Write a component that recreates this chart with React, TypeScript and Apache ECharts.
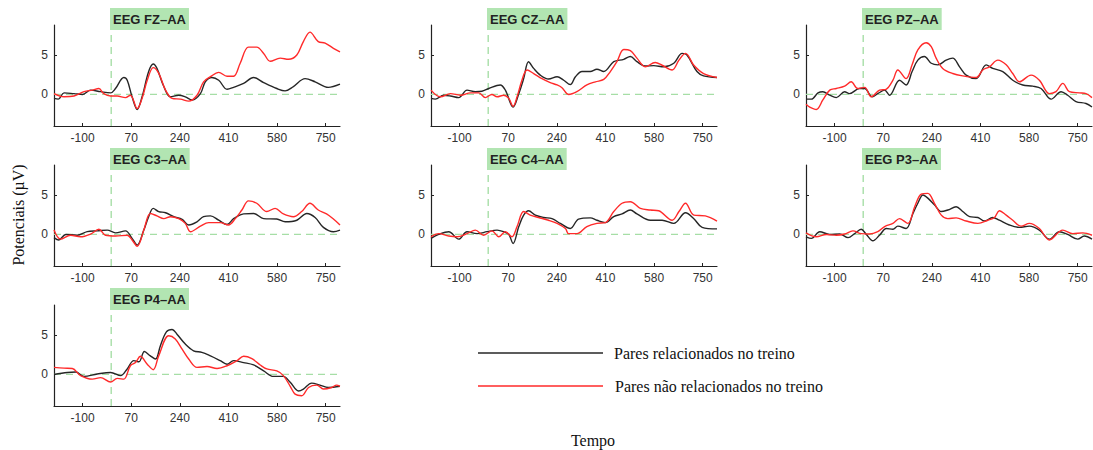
import React, { useEffect, useRef } from "react";
import * as echarts from "echarts";

// Time range (ms) and tick labels
const X_MIN = -200;
const X_MAX = 800;
const X_TICKS = [-100, 70, 240, 410, 580, 750];
const Y_MIN = -4;
const Y_MAX = 8.8;
const Y_TICKS = [0, 5];
const STIMULUS_ONSET = 0;
const BASELINE = 0;

const PANEL_TITLES = ["EEG FZ\u2013AA", "EEG CZ\u2013AA", "EEG PZ\u2013AA", "EEG C3\u2013AA", "EEG C4\u2013AA", "EEG P3\u2013AA", "EEG P4\u2013AA"];
const SERIES_NAMES = ["Pares relacionados no treino", "Pares n\u00e3o relacionados no treino"];

// [time (ms), potential (µV)]
const FZ_REL = [[-200,-0.5],[-185,-0.6],[-165,0.2],[-130,0.1],[-100,0],[-72,0.55],[-37,0.35],[-2,0.2],[15,0.75],[44,2.15],[56,1.8],[73,-0.3],[91,-1.9],[108,-0.3],[131,2.9],[147,3.85],[160,3.3],[184,1],[207,-0.3],[236,-0.1],[259,-0.3],[283,-0.7],[312,0.1],[329,1.6],[352,2.15],[376,1.8],[405,0.65],[428,0.9],[463,1.4],[498,2.15],[533,1.5],[579,0.75],[608,0.45],[637,1],[678,2],[713,1.6],[759,0.9],[800,1.3]];
const FZ_NREL = [[-200,0.1],[-165,-0.3],[-130,-0.2],[-95,0.35],[-66,0.55],[-43,0.75],[-26,0.1],[-2,-0.2],[21,-0.2],[50,-0.4],[67,-0.1],[91,-1.8],[108,-0.5],[126,1.8],[147,3.4],[166,2.7],[190,0.55],[213,-0.5],[242,-0.6],[271,-0.85],[300,-0.1],[323,1.6],[347,2.25],[376,2.8],[405,2.3],[428,2.3],[451,3.95],[480,6],[509,6],[533,5.2],[556,4.2],[591,4.6],[620,4.45],[649,5],[672,6.7],[695,7.9],[724,6.7],[748,6.5],[777,5.85],[800,5.4]];

const CZ_REL = [[-200,-0.5],[-185,-0.6],[-156,-0.1],[-132,-0.2],[-103,-0.4],[-74,0.55],[-45,0.35],[-22,0.4],[2,0.75],[42,1.2],[60,0.55],[87,-1.6],[107,0.1],[124,2.0],[141,4.15],[159,3.3],[182,2.45],[211,1.95],[241,2.25],[264,1.8],[287,1.25],[305,2.25],[328,2.9],[357,2.9],[380,3.2],[404,2.9],[439,4.15],[474,4.45],[497,4.8],[520,4.15],[549,3.6],[579,3.65],[614,3.5],[649,3.95],[678,5.2],[695,5],[730,2.9],[753,2.35],[800,2.15]];
const CZ_NREL = [[-200,0.55],[-167,-0.3],[-132,0.1],[-97,-0.1],[-62,0.2],[-33,0.2],[-10,-0.4],[13,0],[31,-0.3],[54,-0.1],[72,-0.5],[87,-1.5],[101,-0.3],[118,1.8],[136,3.1],[159,2.65],[188,2.0],[217,1.5],[241,1.2],[258,0.85],[281,0],[310,0.35],[345,1.2],[375,1.6],[404,1.9],[427,2.9],[450,4.15],[474,5.7],[497,5.55],[520,4.6],[549,3.5],[584,4.05],[608,3.7],[643,3.1],[667,4.35],[690,5.2],[719,3.7],[753,2.65],[800,2.15]];

const PZ_REL = [[-200,-0.6],[-181,-0.6],[-158,0.2],[-141,0.35],[-117,-0.1],[-94,-0.4],[-65,0.35],[-48,0.1],[-13,0.75],[5,0.75],[32,-0.3],[51,0.1],[75,0.55],[92,-0.1],[127,1.8],[150,1.2],[171,2.9],[191,4.35],[214,4.8],[238,3.95],[261,3.75],[290,4.35],[313,4.6],[337,3.5],[360,2.45],[395,2.0],[430,3.75],[453,3.3],[488,2.9],[523,1.8],[558,1.2],[593,1.05],[622,0.75],[657,-0.6],[692,0.35],[715,-0.1],[744,-0.9],[779,-1.15],[800,-1.6]];
const PZ_NREL = [[-200,-1.25],[-187,-1.6],[-164,-1.9],[-141,-0.7],[-117,0.55],[-94,0.75],[-65,1.05],[-42,1.6],[-19,0.75],[5,0.9],[28,-0.3],[57,0.55],[80,0.65],[104,1.8],[121,3.1],[150,2.0],[171,3.75],[191,5.65],[220,6.55],[238,6.05],[255,4.6],[278,3.3],[313,2.65],[348,2.35],[395,2.15],[418,3.1],[441,3.5],[471,4.35],[500,3.75],[523,2.65],[546,1.6],[587,2.45],[616,1.8],[651,0.1],[674,0.35],[698,1.4],[721,0.35],[756,0.2],[779,0.1],[800,-0.4]];

const C3_REL = [[-200,-0.4],[-183,-0.7],[-159,0],[-119,-0.1],[-84,0.35],[-49,0.45],[-14,0.55],[15,0.2],[50,0.45],[73,-0.5],[91,-1.35],[114,0.55],[131,2.25],[147,3.3],[166,2.9],[190,2.75],[219,2.25],[248,1.9],[271,1.2],[300,1.6],[323,2.25],[347,2.35],[376,1.8],[405,1.25],[428,2.0],[463,2.6],[498,2.65],[533,2.0],[579,1.95],[608,1.6],[649,1.8],[684,2.65],[713,2.15],[742,0.9],[777,0.35],[800,0.55]];
const C3_NREL = [[-200,0.55],[-177,-0.6],[-142,-0.1],[-107,-0.3],[-72,0.05],[-43,0.65],[-20,-0.1],[15,-0.2],[56,-0.1],[73,-0.7],[91,-1.5],[114,0.55],[137,2.65],[160,2.35],[184,2.0],[207,2.25],[236,2.0],[259,1.4],[277,0.35],[312,1.05],[341,1.5],[381,1.5],[410,1.2],[434,2.0],[457,3.1],[480,4.25],[509,3.95],[544,2.9],[573,3.3],[602,2.6],[637,2.25],[666,2.9],[695,3.95],[724,3.1],[753,2.6],[777,1.95],[800,1.2]];

const C4_REL = [[-200,-0.5],[-173,0],[-138,0.35],[-103,-0.6],[-74,0.35],[-39,0.1],[-4,0.35],[31,0.55],[54,0.35],[72,0],[87,-1.15],[107,1.0],[124,2.45],[141,3.0],[165,2.45],[194,2.15],[223,2.0],[252,1.4],[287,0.75],[316,1.95],[357,2.1],[380,1.8],[410,1.5],[439,2.25],[468,2.6],[497,3.1],[520,2.6],[567,1.8],[608,1.8],[649,1.4],[690,2.75],[719,2.0],[748,0.9],[800,0.7]];
const C4_NREL = [[-200,-0.3],[-173,0.1],[-138,-0.2],[-109,-0.3],[-74,0.1],[-45,0.55],[-16,-0.1],[13,0.45],[37,-0.3],[60,0.35],[83,-0.3],[101,1.0],[124,2.9],[147,2.45],[176,2.15],[211,1.8],[241,1.4],[270,0.75],[281,0.1],[310,0.1],[345,1.0],[380,1.4],[410,1.5],[439,2.9],[468,3.95],[497,4.15],[532,3.3],[567,3.1],[596,3.0],[643,1.8],[667,2.9],[690,3.95],[719,2.45],[759,2.35],[800,1.7]];

const P3_REL = [[-200,-0.3],[-181,-0.5],[-152,0.35],[-117,0],[-82,0.05],[-53,-0.4],[-30,0.1],[-7,0.65],[11,0],[34,-0.8],[57,-0.1],[81,0.75],[104,0.65],[121,1.05],[150,0.75],[174,2.65],[191,3.95],[209,5.0],[226,4.6],[249,3.75],[273,2.9],[296,3.1],[325,3.5],[348,2.9],[372,2.25],[401,2.15],[424,1.7],[453,2.15],[476,1.8],[511,1.2],[546,0.9],[581,1.05],[616,0.55],[651,-0.6],[686,0.35],[715,0],[750,-0.6],[773,-0.2],[800,-0.6]];
const P3_NREL = [[-200,0.2],[-164,-0.3],[-129,0],[-94,-0.1],[-65,0.05],[-36,0.45],[-7,0.1],[22,0.05],[51,0.35],[75,1.0],[104,1.4],[127,2.0],[156,1.4],[180,3.5],[203,5.1],[226,5.2],[249,3.95],[273,2.45],[296,2.0],[325,2.1],[360,1.7],[401,1.4],[436,1.8],[459,2.15],[476,3.0],[500,2.45],[523,1.8],[552,1.05],[581,1.4],[616,0.75],[651,-0.7],[698,0.55],[733,0.1],[768,0.2],[800,-0.1]];

const P4_REL = [[-200,0],[-153,0.25],[-124,0.3],[-95,-0.25],[-49,0.05],[-2,0.25],[33,-0.15],[56,0.7],[79,1.75],[97,1.6],[116,2.9],[137,2.35],[155,1.95],[172,3.65],[193,5.4],[213,5.7],[230,5.1],[259,3.85],[288,3.0],[317,2.8],[347,2.35],[381,1.75],[405,1.3],[428,1.75],[463,1.5],[498,1.2],[533,0.45],[567,-0.25],[602,-0.25],[626,-1.0],[655,-2.1],[672,-1.85],[701,-1.1],[730,-1.35],[759,-1.65],[800,-1.5]];
const P4_NREL = [[-200,0.9],[-165,0.8],[-136,0.75],[-107,-0.15],[-66,-0.6],[-37,-0.4],[-2,-0.95],[21,-0.5],[44,-0.6],[67,1.1],[85,1.5],[102,2.3],[126,1.3],[147,0.6],[166,2.35],[201,4.9],[224,4.5],[248,3.2],[271,1.95],[300,0.9],[335,1.0],[370,0.75],[405,1.1],[440,1.75],[463,2.3],[492,2.0],[521,1.2],[544,0.7],[579,0.45],[602,-0.15],[626,-1.5],[643,-2.5],[666,-2.7],[690,-1.65],[719,-1.35],[742,-1.85],[771,-1.65],[788,-1.35],[800,-1.5]];

const PANEL_DATA = [
  [FZ_REL, FZ_NREL],
  [CZ_REL, CZ_NREL],
  [PZ_REL, PZ_NREL],
  [C3_REL, C3_NREL],
  [C4_REL, C4_NREL],
  [P3_REL, P3_NREL],
  [P4_REL, P4_NREL],
];

const COL_LEFT = [54, 431, 806];
const ROW_TOP = [25, 165, 305];
const GRID_W = 286;
const GRID_H = 101;
const LINE_COLORS = ["#262626", "#ff2a2a"];
const GUIDE = "#a6dea6";
const SANS = "'Liberation Sans', Arial, sans-serif";
const SERIF = "'Liberation Serif', 'Times New Roman', serif";

export default function App() {
  const ref = useRef<HTMLDivElement>(null);
  useEffect(() => {
    if (!ref.current) return;
    const chart = echarts.init(ref.current, null, { renderer: "svg" });
    const grids: any[] = [];
    const xAxes: any[] = [];
    const yAxes: any[] = [];
    const series: any[] = [];
    const titles: any[] = [];
    PANEL_DATA.forEach((pair, i) => {
      const col = i % 3;
      const row = Math.floor(i / 3);
      const left = COL_LEFT[col];
      const top = ROW_TOP[row];
      grids.push({ left, top, width: GRID_W, height: GRID_H, containLabel: false });
      xAxes.push({
        type: "value",
        gridIndex: i,
        min: X_MIN,
        max: X_MAX,
        axisLine: { show: true, onZero: false, lineStyle: { color: "#222", width: 1.2 } },
        axisTick: { show: true, inside: true, length: 3, customValues: X_TICKS, lineStyle: { color: "#222" } },
        axisLabel: { customValues: X_TICKS, color: "#333", fontSize: 12, fontFamily: SANS, margin: 6 },
        splitLine: { show: false },
        axisPointer: { show: false },
      });
      yAxes.push({
        type: "value",
        gridIndex: i,
        min: Y_MIN,
        max: Y_MAX,
        axisLine: { show: true, onZero: false, lineStyle: { color: "#222", width: 1.2 } },
        axisTick: { show: true, inside: true, length: 3, customValues: Y_TICKS, lineStyle: { color: "#222" } },
        axisLabel: { customValues: Y_TICKS, color: "#333", fontSize: 12, fontFamily: SANS, margin: 6 },
        splitLine: { show: false },
        axisPointer: { show: false },
      });
      // guide lines: stimulus onset (vertical) and baseline (horizontal)
      series.push({
        type: "line",
        xAxisIndex: i,
        yAxisIndex: i,
        data: [[STIMULUS_ONSET, Y_MIN], [STIMULUS_ONSET, Y_MAX]],
        showSymbol: false,
        silent: true,
        z: 1,
        lineStyle: { color: GUIDE, type: [7, 5], width: 1.4 },
        itemStyle: { color: GUIDE },
      });
      series.push({
        type: "line",
        xAxisIndex: i,
        yAxisIndex: i,
        data: [[X_MIN, BASELINE], [X_MAX, BASELINE]],
        showSymbol: false,
        silent: true,
        z: 1,
        lineStyle: { color: GUIDE, type: [7, 5], width: 1.3 },
        itemStyle: { color: GUIDE },
      });
      pair.forEach((data, s) => {
        series.push({
          type: "line",
          name: SERIES_NAMES[s],
          xAxisIndex: i,
          yAxisIndex: i,
          data,
          showSymbol: false,
          smooth: 0.35,
          z: s === 0 ? 3 : 4,
          lineStyle: { color: LINE_COLORS[s], width: 1.4 },
          itemStyle: { color: LINE_COLORS[s] },
        });
      });
      titles.push({
        text: PANEL_TITLES[i],
        left: left + 56,
        top: top - 17,
        backgroundColor: "#b2e5b2",
        padding: [4, 3, 4, 3],
        textStyle: { fontFamily: SANS, fontSize: 13, fontWeight: "bold", color: "#222", lineHeight: 14 },
        z: 10,
      });
    });

    const icon = "path://M0,9 L125,9 L125,10.3 L0,10.3 Z";
    const option: any = {
      animation: false,
      backgroundColor: "#fff",
      title: titles,
      grid: grids,
      xAxis: xAxes,
      yAxis: yAxes,
      series,
      legend: [
        {
          data: [SERIES_NAMES[0]],
          left: 473,
          top: 340,
          orient: "vertical",
          itemWidth: 125,
          itemHeight: 18,
          icon,
          textStyle: { fontFamily: SERIF, fontSize: 16, color: "#111", padding: [0, 0, 0, 6] },
          selectedMode: false,
        },
        {
          data: [SERIES_NAMES[1]],
          left: 473,
          top: 373,
          orient: "vertical",
          itemWidth: 125,
          itemHeight: 18,
          icon,
          textStyle: { fontFamily: SERIF, fontSize: 16, color: "#111", padding: [0, 0, 0, 7] },
          selectedMode: false,
        },
      ],
      graphic: [
        {
          type: "text",
          x: 593,
          y: 440,
          style: { text: "Tempo", fontFamily: SERIF, fontSize: 16, fill: "#111", align: "center", verticalAlign: "middle" },
        },
        {
          type: "text",
          x: 18,
          y: 215,
          rotation: Math.PI / 2,
          style: { text: "Potenciais (\u00b5V)", fontFamily: SERIF, fontSize: 16, fill: "#111", align: "center", verticalAlign: "middle" },
        },
      ],
    };
    chart.setOption(option);
    return () => chart.dispose();
  }, []);
  return <div ref={ref} style={{ position: "fixed", left: 0, top: 0, width: 1093, height: 450 }} />;
}
